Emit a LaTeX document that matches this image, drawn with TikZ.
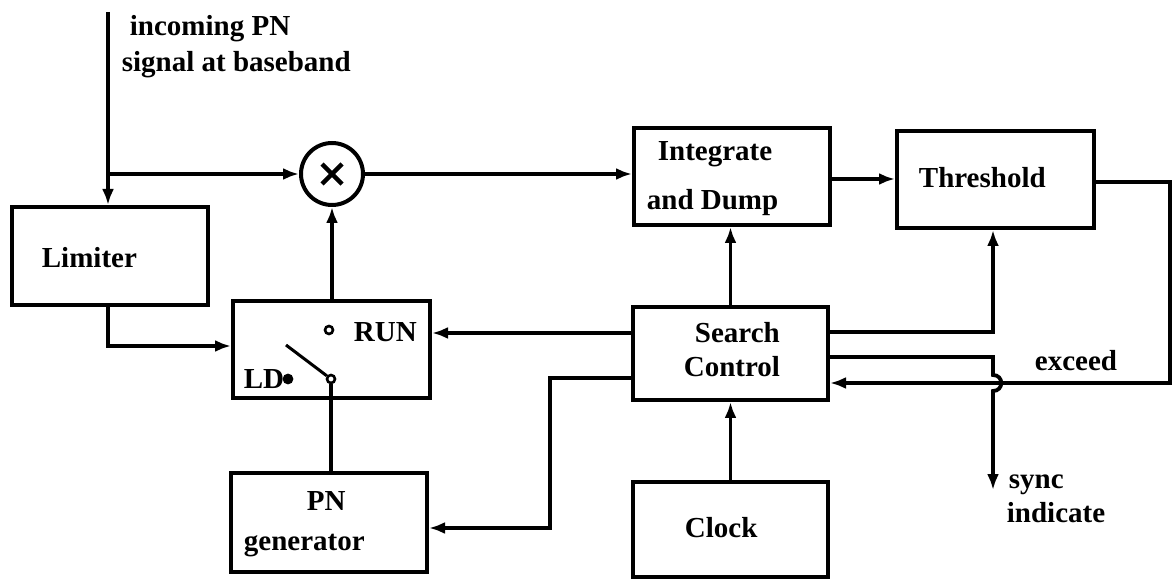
\documentclass[tikz,border=0pt]{standalone}
\usepackage{fontspec}
\setmainfont{Liberation Serif}
\usetikzlibrary{arrows.meta}
\begin{document}
\begin{tikzpicture}[x=0.5pt,y=-0.5pt,
  line width=1.9pt,
  every node/.style={font=\fontsize{14.5}{17}\bfseries\selectfont},
  blk/.style={draw, rectangle, inner sep=0pt, line width=2pt},
  arr/.style={-{Latex[length=8pt,width=6pt]}},
  lbl/.style={anchor=base west, inner sep=0pt},
  contact/.style={draw, circle, inner sep=0pt, minimum size=4pt, line width=1.3pt},
  ]
\useasboundingbox (0,0) rectangle (1172,582);

% blocks
\node[blk, minimum width=98pt, minimum height=49pt] (lim) at (110,256) {};
\node[blk, minimum width=98.5pt, minimum height=48.5pt] (sw) at (331.5,349.5) {};
\node[blk, minimum width=98pt, minimum height=49.5pt] (pn) at (329,522.5) {};
\node[blk, minimum width=98pt, minimum height=48.5pt] (int) at (732,176.5) {};
\node[blk, minimum width=98.5pt, minimum height=48.5pt] (thr) at (995.5,179.5) {};
\node[blk, minimum width=97.5pt, minimum height=46.5pt] (sc) at (730.5,353.5) {};
\node[blk, minimum width=97.5pt, minimum height=47.5pt] (clk) at (730.5,529.5) {};
\node[blk, circle, minimum size=31pt] (mult) at (332,174) {};
\draw[line width=2.2pt] (mult.center) ++(-10,-10) -- ++(20,20);
\draw[line width=2.2pt] (mult.center) ++(10,-10) -- ++(-20,20);

% block texts
\node[lbl] (limT) at (40,268) {Limiter};
\node[lbl] (intT1) at (656,161) {Integrate};
\node[lbl] (intT2) at (645,210) {and Dump};
\node[lbl] (thrT) at (917,188) {Threshold};
\node[lbl] (scT1) at (693,343) {Search};
\node[lbl] (scT2) at (682,377) {Control};
\node[lbl] (clkT) at (683,537) {Clock};
\node[lbl] (pnT1) at (305,510) {PN};
\node[lbl] (pnT2) at (242,550) {generator};

% switch internals
\node[contact] (run) at (329,330) {};
\node[lbl] (runT) at (352,342) {RUN};
\node[contact] (piv) at (331,379) {};
\node[lbl] (ldT) at (242,389) {LD};
\node[contact, fill] (ld) at (288,379) {};
\coordinate (levEnd) at (286,345);
\draw[line width=1.5pt] (levEnd) -- (piv);
\draw (piv.south) -- (piv.south |- pn.north);

% input
\coordinate (inTop) at (108,12);
\coordinate (inBr) at (108,174);
\node[lbl] (inT1) at (128,36) {incoming PN};
\node[lbl] (inT2) at (120,72) {signal at baseband};
\draw[arr] (inTop) -- (inTop |- lim.north);
\draw[arr] (inBr) -- (mult.west);

% limiter to switch
\draw[arr] (inTop |- lim.south) |- (sw.west |- 0,346);
% switch to multiplier
\draw[arr] (mult.south |- sw.north) -- (mult.south);
% multiplier to integrate
\draw[arr] (mult.east) -- (mult.east -| int.west);
% integrate to threshold
\draw[arr] (int.east |- 0,179) -- (thr.west |- 0,179);
% search control to integrate
\draw[arr] (sc.north) -- (sc.north |- int.south);
% clock to search control
\draw[arr] (clk.north) -- (sc.south);
% search control to switch (RUN)
\draw[arr] (sc.west |- 0,333) -- (sw.east |- 0,333);
% search control to PN generator
\coordinate (pA) at (550,378);
\coordinate (pB) at (550,528);
\draw[arr] (sc.west |- 0,378) -- (pA) -- (pB) -- (pn.east |- pB);
% search control to threshold
\coordinate (col) at (993,332);
\draw[arr] (sc.east |- col) -- (col) -- (col |- thr.south);
% threshold exceed back to search control
\coordinate (rT) at (1170,182);
\coordinate (rB) at (1170,383);
\draw[arr] (thr.east |- rT) -- (rT) -- (rB) -- (sc.east |- rB);
\node[lbl] (excT) at (1033,371) {exceed};
% sync indicate with hop over exceed line
\coordinate (sA) at (993,357);
\coordinate (sB) at (993,490);
\draw[arr] (sc.east |- sA) -- (sA) -- (993,375) .. controls (1004,375) and (1004,391) .. (993,391) -- (sB);
\node[lbl] (syT1) at (1007,488) {sync};
\node[lbl] (syT2) at (1005,522) {indicate};
\end{tikzpicture}
\end{document}
